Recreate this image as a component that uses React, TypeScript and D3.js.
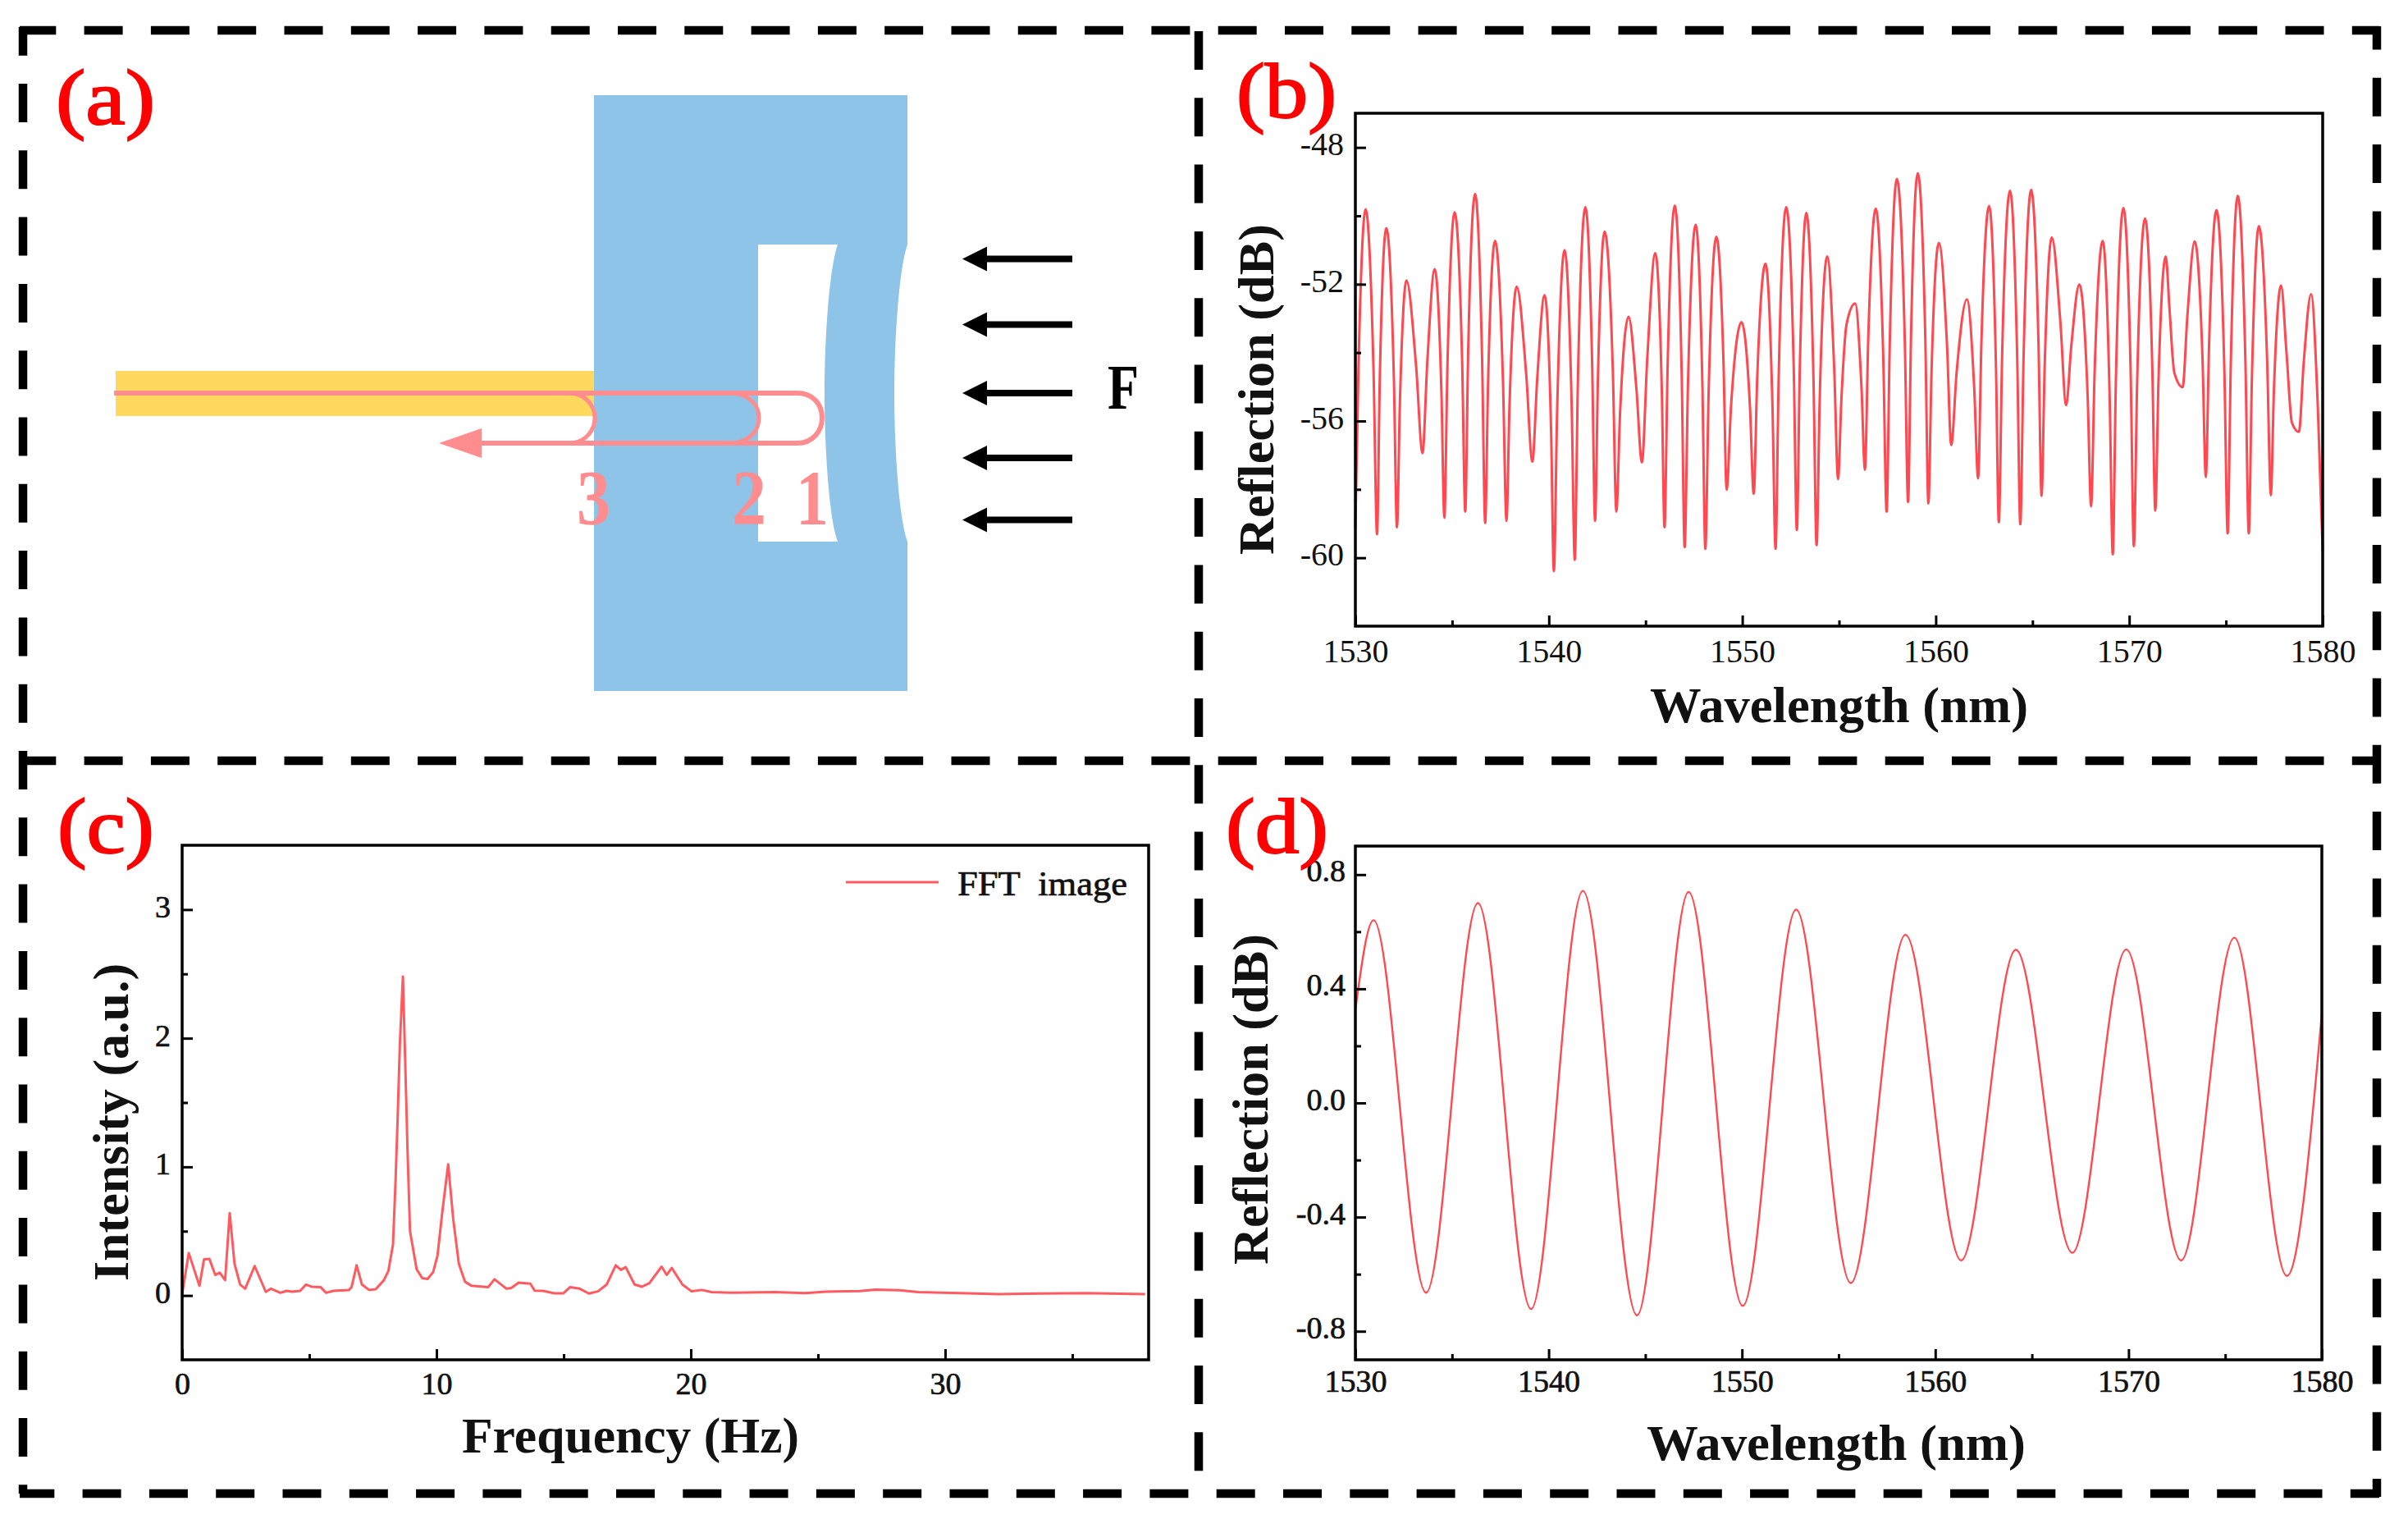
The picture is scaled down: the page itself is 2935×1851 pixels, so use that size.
import React, { useEffect, useRef } from "react";
import * as d3 from "d3";

/* DATA */
const wavelengthB = [
  1530, 1530.16, 1530.53, 1530.94, 1531.12, 1531.26, 1531.6, 1531.99, 1532.15, 1532.3, 1532.64, 1533.14, 1533.47,
  1533.72, 1534.1, 1534.45, 1534.6, 1534.76, 1535.13, 1535.52, 1535.68, 1535.83, 1536.19, 1536.55, 1536.71, 1536.86,
  1537.22, 1537.63, 1537.81, 1537.97, 1538.34, 1538.83, 1539.15, 1539.4, 1539.78, 1540.12, 1540.26, 1540.43, 1540.81,
  1541.18, 1541.34, 1541.5, 1541.89, 1542.24, 1542.39, 1542.54, 1542.88, 1543.31, 1543.49, 1543.68, 1544.12, 1544.53,
  1544.81, 1545.09, 1545.5, 1545.84, 1545.98, 1546.14, 1546.51, 1546.87, 1547.02, 1547.19, 1547.59, 1547.94, 1548.09,
  1548.26, 1548.66, 1549.03, 1549.19, 1549.42, 1549.96, 1550.4, 1550.59, 1550.77, 1551.2, 1551.56, 1551.72, 1551.88,
  1552.27, 1552.66, 1552.82, 1552.97, 1553.31, 1553.68, 1553.84, 1554.0, 1554.39, 1554.75, 1554.95, 1555.12, 1555.39,
  1555.83, 1556.16, 1556.34, 1556.51, 1556.9, 1557.29, 1557.46, 1557.62, 1557.99, 1558.4, 1558.57, 1558.72, 1559.07,
  1559.46, 1559.62, 1559.78, 1560.16, 1560.58, 1560.8, 1561.08, 1561.61, 1561.99, 1562.19, 1562.36, 1562.76, 1563.11,
  1563.26, 1563.43, 1563.84, 1564.21, 1564.37, 1564.54, 1564.93, 1565.31, 1565.47, 1565.63, 1566.0, 1566.44, 1566.74,
  1567.01, 1567.42, 1567.85, 1568.03, 1568.21, 1568.63, 1568.99, 1569.15, 1569.31, 1569.7, 1570.08, 1570.24, 1570.41,
  1570.82, 1571.19, 1571.35, 1571.51, 1571.89, 1572.08, 1572.33, 1572.76, 1573.01, 1573.38, 1573.79, 1573.96, 1574.13,
  1574.51, 1574.92, 1575.09, 1575.25, 1575.61, 1576.01, 1576.18, 1576.34, 1576.7, 1577.13, 1577.32, 1577.48, 1577.85,
  1578.13, 1578.41, 1578.77, 1579.02, 1579.4, 1579.75, 1580,
];
const reflectionB = [
  -59.1, -54.46, -49.81, -54.56, -59.31, -54.84, -50.36, -54.74, -59.11, -55.5, -51.89, -54.4, -56.94,
  -54.25, -51.56, -55.2, -58.83, -54.37, -49.9, -54.28, -58.65, -54.0, -49.36, -54.17, -58.98, -54.86,
  -50.73, -54.83, -58.92, -55.5, -52.07, -54.63, -57.19, -54.76, -52.32, -56.36, -60.39, -55.7, -51.0,
  -55.53, -60.06, -54.9, -49.75, -54.34, -58.92, -54.69, -50.46, -54.56, -58.65, -55.8, -52.95, -55.08,
  -57.21, -54.15, -51.09, -55.1, -59.11, -54.4, -49.7, -54.7, -59.69, -54.98, -50.26, -55.0, -59.74,
  -55.18, -50.61, -54.31, -58.01, -55.56, -53.11, -55.62, -58.13, -54.77, -51.4, -55.57, -59.74, -54.75,
  -49.75, -54.47, -59.19, -54.55, -49.91, -54.77, -59.63, -55.41, -51.19, -54.45, -57.7, -55.4, -53.17,
  -52.56, -55.0, -57.43, -53.61, -49.79, -54.22, -58.65, -53.79, -48.92, -53.65, -58.37, -53.56, -48.75,
  -53.58, -58.41, -54.6, -50.79, -53.75, -56.7, -54.57, -52.44, -55.06, -57.68, -53.7, -49.71, -54.34,
  -58.96, -54.11, -49.26, -54.14, -59.02, -54.13, -49.24, -53.72, -58.19, -54.41, -50.63, -53.09, -55.54,
  -53.78, -52.01, -55.25, -58.5, -54.62, -50.73, -55.32, -59.9, -54.84, -49.77, -54.72, -59.66, -54.87,
  -50.08, -54.35, -58.62, -54.9, -51.19, -52.7, -54.58, -55.01, -52.9, -50.75, -54.2, -57.64, -53.73,
  -49.83, -54.56, -59.29, -54.35, -49.41, -54.35, -59.29, -54.8, -50.3, -54.23, -58.17, -55.1, -52.04,
  -54.0, -56.05, -56.32, -54.3, -52.29, -55.6, -59.8,
];

const frequencyC = [
  0, 0.26, 0.68, 0.86, 1.07, 1.3, 1.48, 1.69, 1.87, 2.06, 2.28, 2.48, 2.85, 3.29, 3.49, 3.86, 4.11, 4.32, 4.64,
  4.87, 5.09, 5.45, 5.66, 5.94, 6.56, 6.66, 6.86, 7.07, 7.35, 7.61, 7.93, 8.11, 8.29, 8.39, 8.47, 8.56, 8.68, 8.8,
  8.86, 8.96, 9.22, 9.44, 9.65, 9.87, 10.04, 10.23, 10.46, 10.66, 10.88, 11.12, 11.38, 12.03, 12.28, 12.75, 12.94,
  13.23, 13.69, 13.86, 14.19, 14.63, 14.99, 15.25, 15.63, 15.99, 16.35, 16.69, 17.05, 17.25, 17.44, 17.79,
  18.08, 18.37, 18.85, 19.05, 19.25, 19.67, 20.03, 20.43, 20.82, 21.61, 23.3, 24.5, 25.3, 26.65, 27.26, 28.2,
  28.94, 30.6, 32.1, 33.66, 35.5, 37.86,
];
const intensityC = [
  0.01, 0.33, 0.075, 0.28, 0.284, 0.16, 0.177, 0.12, 0.64, 0.245, 0.085, 0.053, 0.229, 0.028, 0.053, 0.021, 0.036,
  0.03, 0.036, 0.085, 0.068, 0.064, 0.021, 0.036, 0.043, 0.064, 0.235, 0.085, 0.043, 0.049, 0.118, 0.192, 0.395,
  0.887, 1.357, 1.95, 2.48, 1.6, 1.14, 0.5, 0.203, 0.135, 0.128, 0.182, 0.31, 0.65, 1.02, 0.59, 0.246, 0.107, 0.075,
  0.064, 0.126, 0.053, 0.058, 0.1, 0.092, 0.038, 0.036, 0.017, 0.017, 0.064, 0.053, 0.015, 0.032, 0.085, 0.235, 0.199,
  0.22, 0.085, 0.068, 0.096, 0.224, 0.16, 0.214, 0.085, 0.032, 0.043, 0.026, 0.021, 0.026, 0.019, 0.03, 0.034,
  0.045, 0.041, 0.026, 0.019, 0.011, 0.015, 0.019, 0.011,
];

const wavelengthD = [
  1530, 1530.94, 1533.66, 1536.34, 1539.09, 1541.77, 1544.57, 1547.24, 1550.04, 1552.8, 1555.63, 1558.46,
  1561.34, 1564.17, 1567.09, 1569.88, 1572.72, 1575.47, 1578.19, 1580,
];
const reflectionD = [
  0.327, 0.64, -0.665, 0.7, -0.722, 0.743, -0.744, 0.739, -0.711, 0.677, -0.631, 0.589, -0.552, 0.537, -0.525,
  0.538, -0.552, 0.579, -0.606, 0.314,
];

const wavelengthTicks = [1530, 1540, 1550, 1560, 1570, 1580];
const wavelengthMinor = [1535, 1545, 1555, 1565, 1575];

const SERIF = "'Liberation Serif', serif";
const LINE_RED = "#ff4850";
const PINK = "#ff8c8f";

interface PanelOpts {
  left: number;
  right: number;
  top: number;
  bottom: number;
  xDomain: number[];
  yDomain: number[];
  xTicks: number[];
  xMinor: number[];
  yTicks: number[];
  yMinor: number[];
  yFormat: (d: number) => string;
  xs: number[];
  ys: number[];
  curve: any;
  lineWidth: number;
  lineColor: string;
  tickFont: number;
  tickStroke: number;
  xTickY: number;
  yTickDx: number;
  yTickDy: number;
  xLabel: string;
  xLabelSpan: number[];
  xLabelY: number;
  yLabel: string;
  yLabelSpan: number[];
  yLabelX: number;
}

function label(g: any, txt: string, x: number, y: number, size: number, len: number, fill: string, weight: string) {
  return g
    .append("text")
    .attr("x", x)
    .attr("y", y)
    .attr("font-family", SERIF)
    .attr("font-size", size)
    .attr("font-weight", weight)
    .attr("fill", fill)
    .attr("textLength", len)
    .attr("lengthAdjust", "spacingAndGlyphs")
    .text(txt);
}

function drawPanel(svg: any, p: PanelOpts) {
  const x = d3.scaleLinear().domain(p.xDomain).range([p.left, p.right]);
  const y = d3.scaleLinear().domain(p.yDomain).range([p.bottom, p.top]);
  const g = svg.append("g");

  const line = d3
    .line<number>()
    .x((d) => x(d))
    .y((_, i) => y(p.ys[i]))
    .curve(p.curve);
  g.append("path")
    .attr("d", line(p.xs))
    .attr("fill", "none")
    .attr("stroke", p.lineColor)
    .attr("stroke-width", p.lineWidth)
    .attr("stroke-linejoin", "round");

  const xMajor = g
    .append("g")
    .attr("transform", "translate(0," + p.bottom + ")")
    .call(d3.axisBottom(x).tickValues(p.xTicks).tickSize(-13).tickFormat((d: any) => String(d)));
  const yMajor = g
    .append("g")
    .attr("transform", "translate(" + p.left + ",0)")
    .call(d3.axisLeft(y).tickValues(p.yTicks).tickSize(-13).tickFormat((d: any) => p.yFormat(d)));
  g.append("g")
    .attr("transform", "translate(0," + p.bottom + ")")
    .call(d3.axisBottom(x).tickValues(p.xMinor).tickSize(-7).tickFormat(() => ""));
  g.append("g")
    .attr("transform", "translate(" + p.left + ",0)")
    .call(d3.axisLeft(y).tickValues(p.yMinor).tickSize(-7).tickFormat(() => ""));

  g.selectAll(".domain").remove();
  g.selectAll(".tick line").attr("stroke", "#000").attr("stroke-width", 3);
  [xMajor, yMajor].forEach((a: any) => {
    a.selectAll("text")
      .attr("font-family", SERIF)
      .attr("font-size", p.tickFont)
      .attr("fill", "#111")
      .attr("stroke", "#111")
      .attr("stroke-width", p.tickStroke);
  });
  xMajor.selectAll("text").attr("dy", 0).attr("y", p.xTickY);
  yMajor.selectAll("text").attr("dy", p.yTickDy).attr("x", p.yTickDx);

  g.append("rect")
    .attr("x", p.left)
    .attr("y", p.top)
    .attr("width", p.right - p.left)
    .attr("height", p.bottom - p.top)
    .attr("fill", "none")
    .attr("stroke", "#000")
    .attr("stroke-width", 3.5);

  label(g, p.xLabel, p.xLabelSpan[0], p.xLabelY, 62, p.xLabelSpan[1] - p.xLabelSpan[0], "#111", "bold");
  label(g, p.yLabel, 0, 0, 62, p.yLabelSpan[1] - p.yLabelSpan[0], "#111", "bold").attr(
    "transform",
    "translate(" + p.yLabelX + "," + p.yLabelSpan[1] + ") rotate(-90)"
  );
}

function drawFrame(svg: any) {
  const segs = [
    { x1: 24, y1: 37, x2: 2900, y2: 37, off: 2.7 },
    { x1: 24, y1: 927, x2: 2900, y2: 927, off: 2.7 },
    { x1: 24, y1: 1820, x2: 2900, y2: 1820, off: 4.7 },
    { x1: 28, y1: 33, x2: 28, y2: 1820, off: 12.3 },
    { x1: 1461, y1: 37, x2: 1461, y2: 1820, off: 80.3 },
    { x1: 2897, y1: 32, x2: 2897, y2: 1824, off: 18.5 },
  ];
  svg
    .append("g")
    .selectAll("line")
    .data(segs)
    .enter()
    .append("line")
    .attr("x1", (d: any) => d.x1)
    .attr("y1", (d: any) => d.y1)
    .attr("x2", (d: any) => d.x2)
    .attr("y2", (d: any) => d.y2)
    .attr("stroke", "#000")
    .attr("stroke-width", 10.5)
    .attr("stroke-dasharray", "47 34.3")
    .attr("stroke-dashoffset", (d: any) => d.off);
}

function drawSchematic(svg: any) {
  const g = svg.append("g");
  g.append("rect").attr("x", 724).attr("y", 116).attr("width", 382).attr("height", 726).attr("fill", "#8ec4e8");
  // cavity and the outer dent of the membrane
  g.append("path")
    .attr("d", "M924,298 L1021,298 C1010,330 1005,420 1005,479 C1005,540 1010,630 1021,660 L924,660 Z")
    .attr("fill", "#fff");
  g.append("path")
    .attr("d", "M1108,298 L1106,298 C1095,330 1090,420 1090,479 C1090,540 1095,630 1106,660 L1108,660 Z")
    .attr("fill", "#fff");
  g.append("rect").attr("x", 141).attr("y", 452).attr("width", 583).attr("height", 55).attr("fill", "#ffd95e");

  // light path through the three reflecting faces
  g.append("path")
    .attr("d", "M139,479 L972,479 C990,479 1002,492 1002,509 C1002,526 990,540 972,540 L570,540")
    .attr("fill", "none")
    .attr("stroke", PINK)
    .attr("stroke-width", 6);
  [
    [698, 725],
    [895, 925],
  ].forEach(([a, b]) => {
    g.append("path")
      .attr("d", `M${a},479 C${b - 10},482 ${b},495 ${b},509 C${b},524 ${b - 10},537 ${a},540`)
      .attr("fill", "none")
      .attr("stroke", PINK)
      .attr("stroke-width", 5);
  });
  g.append("path").attr("d", "M535,540 L587,522 L587,558 Z").attr("fill", PINK);

  label(g, "3", 703, 639, 96, 41, PINK, "bold");
  label(g, "2", 892, 639, 96, 42, PINK, "bold");
  label(g, "1", 970, 639, 96, 40, PINK, "bold");

  const forceY = [315.5, 395.6, 479, 558, 633.5];
  forceY.forEach((fy) => {
    g.append("line").attr("x1", 1200).attr("x2", 1307).attr("y1", fy).attr("y2", fy).attr("stroke", "#000").attr("stroke-width", 8);
    g.append("path").attr("d", `M1173,${fy} L1203,${fy - 15} L1203,${fy + 15} Z`).attr("fill", "#000");
  });
  label(g, "F", 1350, 498, 78, 38, "#000", "bold");
}

function App() {
  const ref = useRef<SVGSVGElement | null>(null);

  useEffect(() => {
    document.body.style.margin = "0";
    const svg = d3.select(ref.current);
    svg.selectAll("*").remove();
    svg.append("rect").attr("width", 2935).attr("height", 1851).attr("fill", "#fff");

    drawSchematic(svg);
    drawPanel(svg, {
      left: 1652,
      right: 2831,
      top: 138,
      bottom: 763,
      xDomain: [1530, 1580],
      yDomain: [-62, -47],
      xTicks: wavelengthTicks,
      xMinor: wavelengthMinor,
      yTicks: [-48, -52, -56, -60],
      yMinor: [-50, -54, -58],
      yFormat: (d) => String(d),
      xs: wavelengthB,
      ys: reflectionB,
      curve: d3.curveMonotoneX,
      lineWidth: 3,
      lineColor: LINE_RED,
      tickFont: 40,
      tickStroke: 0,
      xTickY: 44,
      yTickDx: -14,
      yTickDy: 9,
      xLabel: "Wavelength (nm)",
      xLabelSpan: [2011, 2472],
      xLabelY: 880,
      yLabel: "Reflection (dB)",
      yLabelSpan: [273, 676],
      yLabelX: 1552,
    });
    drawPanel(svg, {
      left: 222,
      right: 1400,
      top: 1030,
      bottom: 1657,
      xDomain: [0, 38],
      yDomain: [-0.5, 3.5],
      xTicks: [0, 10, 20, 30],
      xMinor: [5, 15, 25, 35],
      yTicks: [0, 1, 2, 3],
      yMinor: [0.5, 1.5, 2.5],
      yFormat: (d) => String(d),
      xs: frequencyC,
      ys: intensityC,
      curve: d3.curveLinear,
      lineWidth: 3,
      lineColor: "#ff5a60",
      tickFont: 38,
      tickStroke: 0.7,
      xTickY: 42,
      yTickDx: -14,
      yTickDy: 9,
      xLabel: "Frequency (Hz)",
      xLabelSpan: [563, 974],
      xLabelY: 1770,
      yLabel: "Intensity (a.u.)",
      yLabelSpan: [1174, 1561],
      yLabelX: 156,
    });
    drawPanel(svg, {
      left: 1652,
      right: 2830,
      top: 1031,
      bottom: 1657,
      xDomain: [1530, 1580],
      yDomain: [-0.9, 0.9],
      xTicks: wavelengthTicks,
      xMinor: wavelengthMinor,
      yTicks: [-0.8, -0.4, 0, 0.4, 0.8],
      yMinor: [-0.6, -0.2, 0.2, 0.6],
      yFormat: (d) => d.toFixed(1),
      xs: wavelengthD,
      ys: reflectionD,
      curve: d3.curveMonotoneX,
      lineWidth: 2.4,
      lineColor: LINE_RED,
      tickFont: 38,
      tickStroke: 0.7,
      xTickY: 39,
      yTickDx: -12,
      yTickDy: 8,
      xLabel: "Wavelength (nm)",
      xLabelSpan: [2007, 2469],
      xLabelY: 1779,
      yLabel: "Reflection (dB)",
      yLabelSpan: [1138, 1541],
      yLabelX: 1545,
    });

    // legend of the FFT panel
    svg.append("line").attr("x1", 1031).attr("x2", 1144).attr("y1", 1075).attr("y2", 1075).attr("stroke", "#ff5a60").attr("stroke-width", 3);
    label(svg, "FFT  image", 1167, 1091, 42, 207, "#111", "normal")
      .attr("stroke", "#111")
      .attr("stroke-width", 0.7)
      .style("white-space", "pre");

    // panel letters: regular face thickened a little
    const letters = [
      { t: "(a)", x: 68, y: 151, len: 121 },
      { t: "(b)", x: 1507, y: 143, len: 122 },
      { t: "(c)", x: 70, y: 1039, len: 118 },
      { t: "(d)", x: 1494, y: 1039, len: 125 },
    ];
    letters.forEach((l) => {
      label(svg, l.t, l.x, l.y, 96, l.len, "#ff0000", "normal").attr("stroke", "#ff0000").attr("stroke-width", 2);
    });

    drawFrame(svg);
  }, []);

  return <svg ref={ref} width={2935} height={1851} style={{ display: "block" }} />;
}

export default App;
